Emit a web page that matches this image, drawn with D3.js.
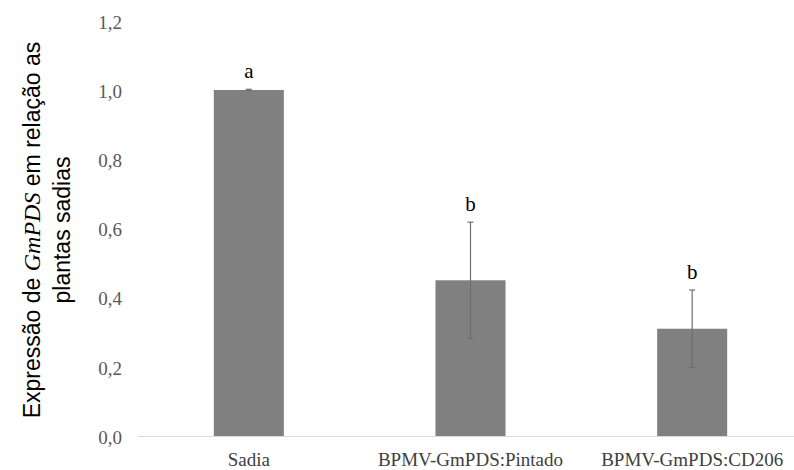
<!DOCTYPE html>
<html>
<head>
<meta charset="utf-8">
<script src="https://cdn.jsdelivr.net/npm/d3@7"></script>
<style>
  body { margin: 0; background: #fff; }
  svg { display: block; }
</style>
</head>
<body>
<svg id="chart"></svg>
<script>
// values
const categories = ['Sadia', 'BPMV-GmPDS:Pintado', 'BPMV-GmPDS:CD206']
const means = [1.0, 0.45, 0.31]
const errors = [0.002, 0.168, 0.112]
const letters = ['a', 'b', 'b']
const yTicks = [0, 0.2, 0.4, 0.6, 0.8, 1.0, 1.2]

const width = 794, height = 470
const serif = '"Liberation Serif", "Times New Roman", serif'

const svg = d3.select('#chart')
  .attr('width', width)
  .attr('height', height)

const x = d3.scaleBand()
  .domain(categories)
  .range([138, 803])
  .paddingInner(0.684)
  .paddingOuter(0.342)

const y = d3.scaleLinear()
  .domain([0, 1.2])
  .range([436, 20.8])

const fmt = d => d3.format('.1f')(d).replace('.', ',')

// y tick labels (no axis line in the original)
const yAxis = d3.axisLeft(y)
  .tickValues(yTicks)
  .tickFormat(fmt)
  .tickSize(0)
  .tickPadding(0)

const gy = svg.append('g')
  .attr('transform', 'translate(122,0)')
  .call(yAxis)
gy.select('.domain').remove()
gy.attr('font-family', serif).attr('font-size', 19)
gy.selectAll('text')
  .attr('dy', '0.38em')
  .attr('fill', '#595959')

// bars
svg.selectAll('rect.bar')
  .data(categories)
  .enter()
  .append('rect')
  .attr('class', 'bar')
  .attr('x', d => x(d))
  .attr('width', x.bandwidth())
  .attr('y', (d, i) => y(means[i]))
  .attr('height', (d, i) => y(0) - y(means[i]))
  .attr('fill', '#808080')

// baseline
svg.append('line')
  .attr('x1', 138).attr('x2', width)
  .attr('y1', y(0) + 0.5).attr('y2', y(0) + 0.5)
  .attr('stroke', '#d9d9d9')
  .attr('stroke-width', 1)

// error bars
const eb = svg.selectAll('g.err')
  .data(categories)
  .enter()
  .append('g')
  .attr('class', 'err')
  .attr('stroke', '#6f6f6f')
  .attr('stroke-width', 1.2)

const cx = d => x(d) + x.bandwidth() / 2
eb.append('line')
  .attr('x1', cx).attr('x2', cx)
  .attr('y1', (d, i) => y(means[i] + errors[i]))
  .attr('y2', (d, i) => y(means[i] - errors[i]))
eb.append('line')
  .attr('x1', d => cx(d) - 3).attr('x2', d => cx(d) + 3)
  .attr('y1', (d, i) => y(means[i] + errors[i]))
  .attr('y2', (d, i) => y(means[i] + errors[i]))
eb.append('line')
  .attr('x1', d => cx(d) - 3).attr('x2', d => cx(d) + 3)
  .attr('y1', (d, i) => y(means[i] - errors[i]))
  .attr('y2', (d, i) => y(means[i] - errors[i]))

// significance letters
svg.selectAll('text.letter')
  .data(categories)
  .enter()
  .append('text')
  .attr('class', 'letter')
  .attr('x', cx)
  .attr('y', (d, i) => y(means[i] + errors[i]) - 11)
  .attr('text-anchor', 'middle')
  .attr('font-family', serif)
  .attr('font-size', 21)
  .attr('fill', '#000')
  .text((d, i) => letters[i])

// x category labels
svg.selectAll('text.cat')
  .data(categories)
  .enter()
  .append('text')
  .attr('class', 'cat')
  .attr('x', cx)
  .attr('y', 466)
  .attr('text-anchor', 'middle')
  .attr('font-family', serif)
  .attr('font-size', 19)
  .attr('fill', '#404040')
  .text(d => d)

// y-axis title, two lines
const title = svg.append('text')
  .attr('transform', 'translate(0,230) rotate(-90)')
  .attr('text-anchor', 'middle')
  .attr('font-family', '"Liberation Sans", Arial, sans-serif')
  .attr('font-size', 23)
  .attr('fill', '#000')

const t1 = title.append('tspan').attr('x', 0).attr('y', 40)
t1.append('tspan').text('Expressão de ')
t1.append('tspan')
  .attr('font-family', serif)
  .attr('font-style', 'italic')
  .attr('font-size', 24)
  .text('GmPDS')
t1.append('tspan').text('  em relação as')
title.append('tspan').attr('x', 0).attr('y', 70).text('plantas sadias')
</script>
</body>
</html>
